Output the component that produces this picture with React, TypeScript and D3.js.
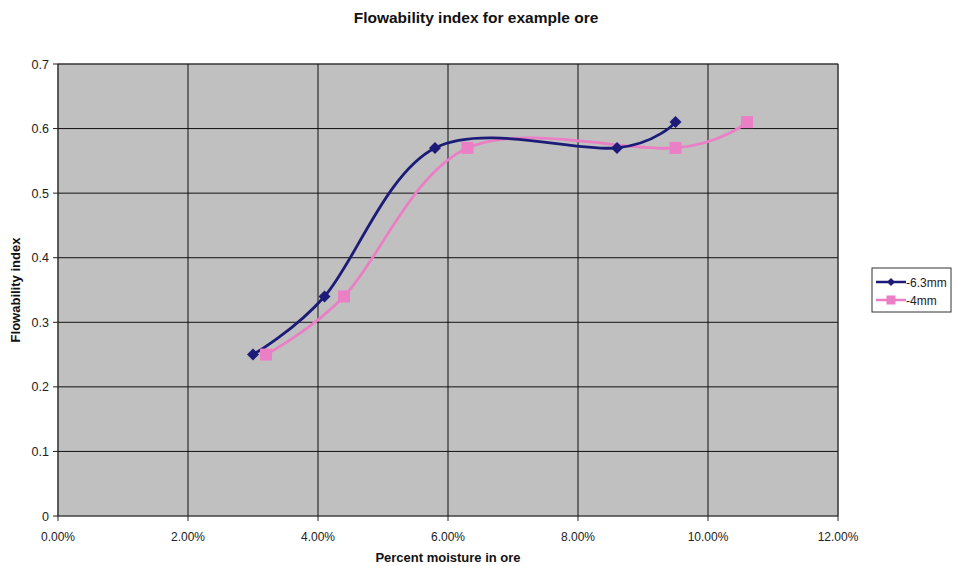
import React from "react";
import * as d3 from "d3";

const xTicks = [0, 0.02, 0.04, 0.06, 0.08, 0.1, 0.12];
const yTicks = [0, 0.1, 0.2, 0.3, 0.4, 0.5, 0.6, 0.7];

const seriesNames = ["-6.3mm", "-4mm"];
const moisture63 = [0.030, 0.041, 0.058, 0.086, 0.095];
const flow63 = [0.25, 0.34, 0.57, 0.57, 0.61];
const moisture4 = [0.032, 0.044, 0.063, 0.095, 0.106];
const flow4 = [0.25, 0.34, 0.57, 0.57, 0.61];

const W = 956, H = 566;
const L = 58, R = 838, T = 64, B = 516;
const navy = "#1c1b78";
const pink = "#ea7fc6";
const font = "Liberation Sans, Arial, sans-serif";

export default function App() {
  const x = d3.scaleLinear().domain([0, 0.12]).range([L, R]);
  const y = d3.scaleLinear().domain([0, 0.7]).range([B, T]);
  const line = d3
    .line<[number, number]>()
    .x((d) => x(d[0]))
    .y((d) => y(d[1]))
    .curve(d3.curveCatmullRom.alpha(0));
  const s1: [number, number][] = moisture63.map((m, i) => [m, flow63[i]]);
  const s2: [number, number][] = moisture4.map((m, i) => [m, flow4[i]]);
  const diamond = (cx: number, cy: number, r: number) =>
    `M${cx},${cy - r}L${cx + r},${cy}L${cx},${cy + r}L${cx - r},${cy}Z`;

  return (
    <svg width={W} height={H} style={{ position: "absolute", left: 0, top: 0 }} fontFamily={font}>
      <rect x={0} y={0} width={W} height={H} fill="#fff" />
      <text x={476} y={23} textAnchor="middle" fontSize={15.5} fontWeight="bold" fill="#111">
        Flowability index for example ore
      </text>
      <rect x={L} y={T} width={R - L} height={B - T} fill="#c0c0c0" stroke="#808080" strokeWidth={1} />
      {xTicks.slice(1).map((t) => (
        <line key={"gx" + t} x1={x(t)} x2={x(t)} y1={T} y2={B} stroke="#111" strokeWidth={1} />
      ))}
      {yTicks.slice(1).map((t) => (
        <line key={"gy" + t} x1={L} x2={R} y1={y(t)} y2={y(t)} stroke="#111" strokeWidth={1} />
      ))}
      <line x1={L} x2={L} y1={T} y2={B} stroke="#222" strokeWidth={1.2} />
      <line x1={L} x2={R} y1={B} y2={B} stroke="#222" strokeWidth={1.2} />
      {yTicks.map((t) => (
        <g key={"ty" + t}>
          <line x1={L - 5} x2={L} y1={y(t)} y2={y(t)} stroke="#222" />
          <text x={L - 9} y={y(t) + 4.5} textAnchor="end" fontSize={12.5} fill="#222">
            {d3.format("")(t)}
          </text>
        </g>
      ))}
      {xTicks.map((t) => (
        <g key={"tx" + t}>
          <line x1={x(t)} x2={x(t)} y1={B} y2={B + 5} stroke="#222" />
          <text x={x(t)} y={B + 25} textAnchor="middle" fontSize={12} fill="#222">
            {d3.format(".2%")(t)}
          </text>
        </g>
      ))}
      <text x={448} y={562} textAnchor="middle" fontSize={13} fontWeight="bold" fill="#111">
        Percent moisture in ore
      </text>
      <text
        transform={`translate(20,290) rotate(-90)`}
        textAnchor="middle"
        fontSize={13}
        fontWeight="bold"
        fill="#111"
      >
        Flowability index
      </text>
      <path d={line(s2) || ""} fill="none" stroke={pink} strokeWidth={2.8} />
      <path d={line(s1) || ""} fill="none" stroke={navy} strokeWidth={2.8} />
      {s2.map((d, i) => (
        <rect key={"p" + i} x={x(d[0]) - 6} y={y(d[1]) - 6} width={12} height={12} fill={pink} />
      ))}
      {s1.map((d, i) => (
        <path key={"b" + i} d={diamond(x(d[0]), y(d[1]), 6)} fill={navy} />
      ))}
      <rect x={872} y={268} width={79} height={44} fill="#fff" stroke="#333" strokeWidth={1} />
      <line x1={876} x2={906} y1={282} y2={282} stroke={navy} strokeWidth={2.5} />
      <path d={diamond(891, 282, 4)} fill={navy} />
      <text x={906} y={286.5} fontSize={12} fill="#222">{seriesNames[0]}</text>
      <line x1={876} x2={906} y1={300} y2={300} stroke={pink} strokeWidth={2.5} />
      <rect x={886.5} y={295.5} width={9} height={9} fill={pink} />
      <text x={906} y={304.5} fontSize={12} fill="#222">{seriesNames[1]}</text>
    </svg>
  );
}
